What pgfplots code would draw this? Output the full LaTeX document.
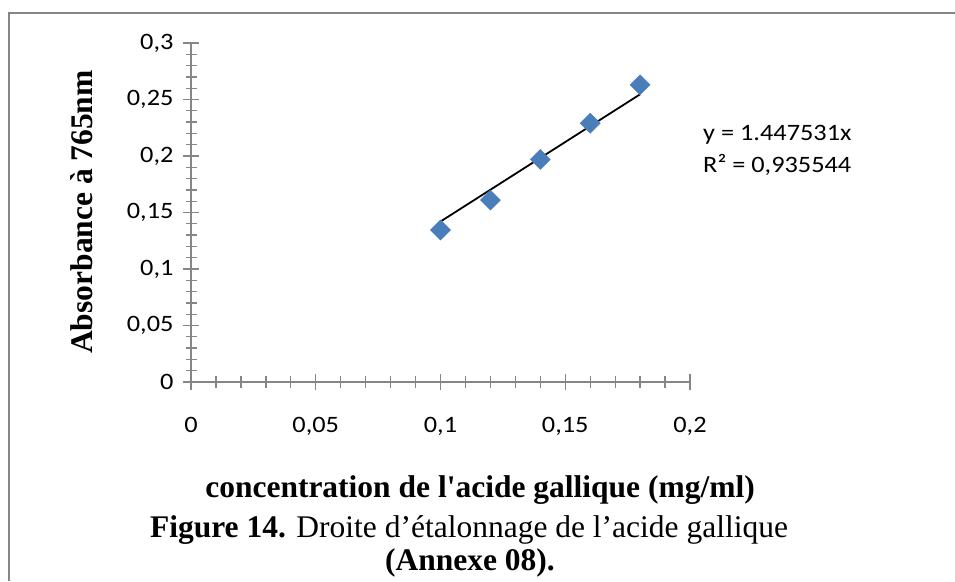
\documentclass[border=0pt]{standalone}
\usepackage{fontspec}
\usepackage{pgfplots}
\pgfplotsset{compat=1.18}
\newfontfamily\calfont[FakeStretch=1.12]{Carlito}
\newfontfamily\tnrfont{Liberation Serif}
\definecolor{axgray}{HTML}{868686}
\definecolor{mblue}{HTML}{4A7EBB}
\begin{document}
\begin{tikzpicture}[x=1pt,y=1pt]
\useasboundingbox (0,0) rectangle (955,581);
\draw[axgray, line width=2.2pt] (9,0) -- (9,568) -- (955,568);
\begin{axis}[
  at={(191pt,199pt)}, anchor=south west,
  scale only axis, width=499pt, height=339pt,
  xmin=0, xmax=0.2, ymin=0, ymax=0.3,
  axis x line=bottom, axis y line=left,
  axis line style={axgray, line width=1.3pt, -},
  xtick={0,0.05,0.1,0.15,0.2},
  xticklabels={0,{0,05},{0,1},{0,15},{0,2}},
  ytick={0,0.05,0.1,0.15,0.2,0.25,0.3},
  yticklabels={0,{0,05},{0,1},{0,15},{0,2},{0,25},{0,3}},
  minor tick num=4,
  tick align=center,
  major tick length=16pt, minor tick length=11pt,
  tick style={axgray, line width=1.3pt},
  ticklabel style={font=\calfont\fontsize{23.5}{28}\selectfont, black},
  xticklabel style={yshift=-24pt},
  yticklabel style={xshift=-6pt},
  clip=false,
]
\addplot[black, line width=1.8pt] coordinates {(0.1,0.142) (0.18,0.2546)};
\addplot[only marks, mark=square*, mark size=7.1pt, mark options={rotate=45, fill=mblue, draw=mblue}]
  coordinates {(0.1,0.1345) (0.12,0.161) (0.14,0.197) (0.16,0.229) (0.18,0.263)};
\end{axis}
\node[anchor=west, font=\calfont\fontsize{23.5}{28}\selectfont, align=left, inner sep=0pt] at (703,431)
  {y = 1.447531x\\[4pt] R² = 0,935544};
\node[rotate=90, font=\tnrfont\bfseries\fontsize{31.5}{36}\selectfont] at (82,369) {Absorbance à 765nm};
\node[font=\tnrfont\bfseries\fontsize{31.5}{36}\selectfont] at (480,91) {concentration de l'acide gallique (mg/ml)};
\node[font=\tnrfont\fontsize{31.5}{36}\selectfont] at (469,51) {\textbf{Figure 14.} Droite d’étalonnage de l’acide gallique};
\node[font=\tnrfont\bfseries\fontsize{31.5}{36}\selectfont] at (470,18) {(Annexe 08).};
\end{tikzpicture}
\end{document}
